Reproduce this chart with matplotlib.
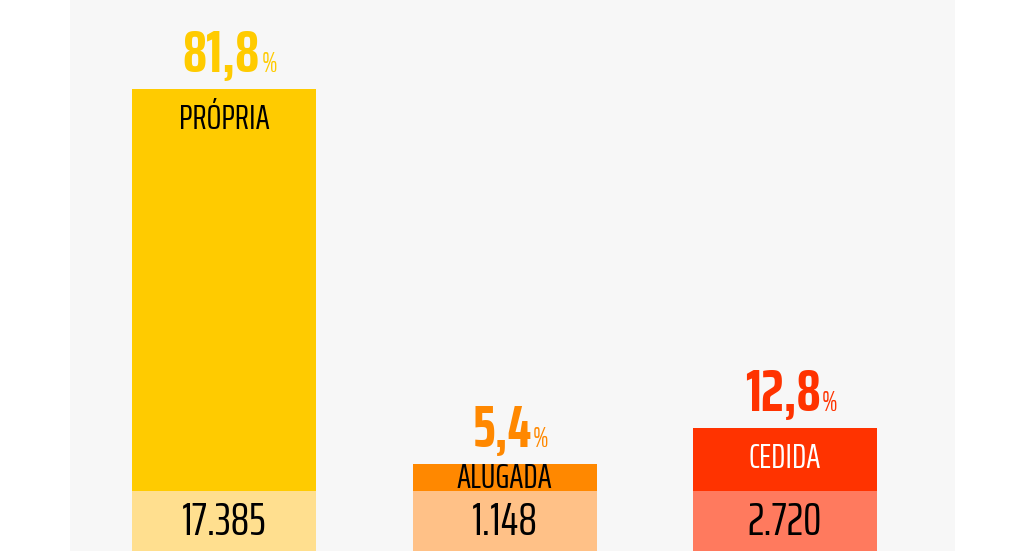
import matplotlib
matplotlib.use("Agg")
import matplotlib.pyplot as plt
from matplotlib.patches import Rectangle
from matplotlib.offsetbox import TextArea, HPacker, AnnotationBbox

# data
categories = ["PRÓPRIA", "ALUGADA", "CEDIDA"]
percents = [81.8, 5.4, 12.8]
pct_labels = ["81,8", "5,4", "12,8"]
counts = ["17.385", "1.148", "2.720"]

# styles
top_colors = ["#FFCB00", "#FF8800", "#FF3300"]
strip_colors = ["#FFDF8F", "#FFC187", "#FF7A5E"]
label_colors = ["black", "black", "white"]
FONT = ["Saira ExtraCondensed", "Roboto Condensed", "DejaVu Sans"]

fig = plt.figure(figsize=(10.25, 5.51), dpi=100)
fig.patch.set_facecolor("white")
# light panel behind the bars
fig.add_artist(Rectangle((70 / 1025, 0), 885 / 1025, 1, transform=fig.transFigure,
                         facecolor="#f7f7f7", edgecolor="none", zorder=0))

ax = fig.add_axes([0, 0, 1, 1])
ax.patch.set_alpha(0)
ax.set_xlim(-0.7986, 2.8556)
ax.set_ylim(-12.21, 99.92)
ax.axis("off")

strip = 12.21
width = 0.656
x = range(len(categories))
ppu = 551 / (99.92 + 12.21)  # pixels per data unit

ax.bar(x, percents, width=width, color=top_colors, zorder=2)
ax.bar(x, [strip] * 3, bottom=-strip, width=width, color=strip_colors, zorder=2)

for i in x:
    v = percents[i]
    # category name inside the bar
    off = min(30, v * ppu / 2 + 1)
    ax.annotate(categories[i], (i, v), xytext=(0, -off), textcoords="offset pixels",
                ha="center", va="center", fontsize=25, color=label_colors[i],
                family=FONT, zorder=3)
    # count in the light strip
    ax.annotate(counts[i], (i, -strip / 2), xytext=(0, -1), textcoords="offset pixels",
                ha="center", va="center", fontsize=33, color="black",
                family=FONT, zorder=3)
    # percentage above the bar
    num = TextArea(pct_labels[i], textprops=dict(fontsize=43, fontweight="bold",
                                                 color=top_colors[i], family=FONT))
    sign = TextArea("%", textprops=dict(fontsize=20, color=top_colors[i], family=FONT))
    box = HPacker(children=[num, sign], align="baseline", pad=0, sep=1)
    ab = AnnotationBbox(box, (i, v), xybox=(6, 5), xycoords="data",
                        boxcoords="offset pixels", box_alignment=(0.5, 0),
                        frameon=False, zorder=3)
    ax.add_artist(ab)

fig.savefig("out.png", dpi=100)
